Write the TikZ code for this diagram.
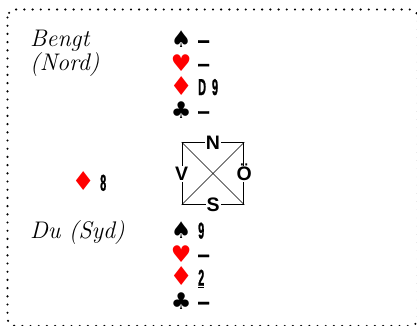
\documentclass[tikz,border=0pt]{standalone}
\usepackage{fontspec}
\usepackage{tikz}
\usetikzlibrary{positioning}
\newfontfamily\suitfont{DejaVu Sans}
\newfontfamily\cardfont{Liberation Sans}[FakeStretch=0.47,FakeBold=1]
\newfontfamily\compassfont{Liberation Sans}
\newcommand\suitsym[3][23]{\makebox[16pt]{\textcolor{#2}{\suitfont\fontsize{#1}{#1}\selectfont #3}}\hspace{9pt}}
\newcommand\cardS{\suitsym{black}{♠}}
\newcommand\cardH{\suitsym{red}{♥}}
\newcommand\cardD{\suitsym[26]{red}{♦}}
\newcommand\cardC{\suitsym{black}{♣}}

\begin{document}
\begin{tikzpicture}[
  x=1pt, y=-1pt,
  player/.style={anchor=base west, inner sep=0pt, align=left, font=\itshape\fontsize{24}{24}\selectfont},
  hand/.style={anchor=base west, inner sep=0pt, align=left, font=\cardfont\bfseries\fontsize{23}{23.6}\selectfont},
  dir/.style={fill=white, inner sep=1pt, text height=14pt, text depth=0pt, font=\compassfont\bfseries\fontsize{19.5}{19.5}\selectfont},
  frame/.style={line width=2.4pt, line cap=round, dash pattern=on 0pt off 8.2pt, rounded corners=8pt}
]
\useasboundingbox (0,0) rectangle (417,325);
\draw[frame] (7.5,9.5) rectangle (418,326);

% North (base = last line)
\node[player] (nord) at (30,70) {Bengt\\(Nord)};
\node[hand] (nordhand) at (173,118.6) {\cardS —\\\cardH —\\\cardD D\hspace{6pt}9\\\cardC —};

% Table
\node[draw, line width=1.1pt, minimum size=61.5pt, inner sep=0pt] (table) at (213,173.5) {};
\draw[line width=0.6pt] (table.north west) -- (table.south east);
\draw[line width=0.6pt] (table.north east) -- (table.south west);
\node[dir] (n) at (table.north) {N};
\node[dir] (s) at (table.south) {S};
\node[dir] (v) at (table.west) {V};
\node[dir] (o) at (table.east) {Ö};

% West card
\node[hand] (vcard) at (75,190.7) {\cardD 8};

% South
\node[player] (syd) at (30,238.3) {Du (Syd)};
\node[hand] (sydhand) at (173,309.3) {\cardS 9\\\cardH —\\\cardD \underline{2}\\\cardC —};
\end{tikzpicture}
\end{document}
